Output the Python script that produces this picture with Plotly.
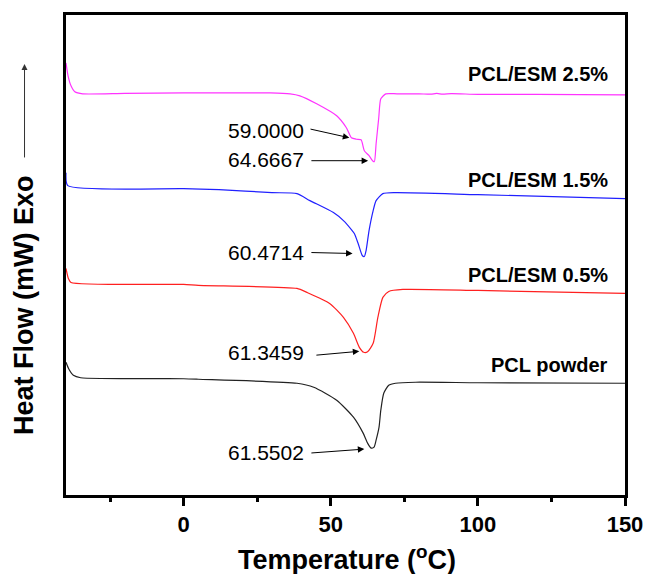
import plotly.graph_objects as go

# ---- data (temperature in °C, heat flow in arbitrary offset units) ----
t_25 = [-40, -39.3, -38.3, -37, -34.3, -20, 0, 20, 29.5, 36.2, 39.5, 45.2, 52, 55.3, 57, 58.7, 60.3,
        61.4, 63, 64.2, 64.8, 65.4, 66.3, 67, 68.7, 72.5, 80, 84, 86, 88, 91, 100, 120, 150]
v_25 = [43.3, 42.0, 41.0, 40.4, 40.2, 40.25, 40.3, 40.3, 40.3, 40.2, 40.0, 39.2, 38.0, 36.8, 35.8, 35.65, 35.6,
        34.5, 34.0, 33.5, 33.4, 35.2, 37.8, 39.7, 40.2, 40.2, 40.2, 40.17, 40.24, 40.17, 40.22, 40.15, 40.15, 40.1]

t_15 = [-40, -39.4, 0, 12, 30, 38.5, 42.9, 50.9, 54.3, 57, 58, 59.3, 60.7, 61.4, 62, 63, 64.4, 65.4,
        67.7, 72, 100, 150]
v_15 = [32.3, 31.0, 30.7, 30.6, 30.3, 30.2, 29.5, 28.3, 27.5, 26.6, 26.2, 25.2, 24.0, 23.9, 24.5, 26.5, 28.5, 29.5,
        30.2, 30.3, 30.1, 29.7]

t_05 = [-40, -39.2, -38.3, 0, 5, 38.5, 41.9, 49.6, 54.3, 57.7, 59.7, 61.2, 62.5, 64.4, 66, 67.7, 69.7,
        74.5, 100, 150]
v_05 = [22.7, 21.7, 21.3, 21.1, 21.0, 20.7, 20.3, 19.2, 17.8, 16.2, 14.8, 14.3, 14.35, 15.2, 17.8, 19.8, 20.4,
        20.6, 20.5, 20.2]

t_pcl = [-40, -39, -37.5, -35, 0, 5, 38.5, 44.2, 52, 57.7, 61, 62.5, 63.7, 64.7, 65.4, 66.4, 67, 68, 69.7,
         72, 78.8, 100, 150]
v_pcl = [13.3, 12.6, 12.0, 11.75, 11.65, 11.6, 11.2, 10.8, 9.5, 7.8, 6.2, 5.2, 4.7, 4.8, 5.5, 6.8, 8.5, 10.2, 11.0,
         11.2, 11.3, 11.25, 11.2]

series_names = ["PCL/ESM 2.5%", "PCL/ESM 1.5%", "PCL/ESM 0.5%", "PCL powder"]
series_colors = ["#FF33FF", "#2020FF", "#FF2020", "#222222"]

peak_labels = ["59.0000", "64.6667", "60.4714", "61.3459", "61.5502"]
# arrow (tail_T, tail_v, head_T, head_v) for each peak label
peak_arrows = [(42.6, 36.7, 56.3, 35.8),
               (42.9, 33.5, 62.7, 33.5),
               (42.9, 24.3, 57.4, 24.2),
               (44.6, 14.0, 59.7, 14.4),
               (42.9, 4.2, 61.4, 4.6)]
peak_label_y = [36.5, 33.6, 24.3, 14.3, 4.3]

name_label_y = [42.2, 31.6, 22.0, 13.0]

FONT = "Liberation Sans, Arial, Helvetica, sans-serif"

fig = go.Figure()
for t, v, n, c in zip([t_25, t_15, t_05, t_pcl], [v_25, v_15, v_05, v_pcl], series_names, series_colors):
    fig.add_trace(go.Scatter(x=t, y=v, mode="lines", name=n,
                             line=dict(color=c, width=1.2, shape="spline", smoothing=0.6)))

ann = []
for n, y in zip(series_names, name_label_y):
    ann.append(dict(x=144.8, y=y, xref="x", yref="y", text=n, showarrow=False,
                    xanchor="right", yanchor="middle",
                    font=dict(family=FONT, size=20, color="black", weight="bold")))

for lab, (tx, ty, hx, hy), ly in zip(peak_labels, peak_arrows, peak_label_y):
    ann.append(dict(x=41.6, y=ly, xref="x", yref="y", text=lab, showarrow=False,
                    xanchor="right", yanchor="middle",
                    font=dict(family=FONT, size=21, color="black")))
    ann.append(dict(x=hx, y=hy, ax=tx, ay=ty, xref="x", yref="y", axref="x", ayref="y",
                    text="", showarrow=True, arrowhead=2, arrowsize=1.3, arrowwidth=1,
                    arrowcolor="black", standoff=0))

# axis titles
ann.append(dict(x=0.502, y=-0.131, xref="paper", yref="paper",
                text="Temperature (<sup>o</sup>C)", showarrow=False,
                xanchor="center", yanchor="middle",
                font=dict(family=FONT, size=27, color="black", weight="bold")))
ann.append(dict(x=-0.0742, y=0.395, xref="paper", yref="paper",
                text="Heat Flow (mW) Exo", showarrow=False, textangle=-90,
                xanchor="center", yanchor="middle",
                font=dict(family=FONT, size=27, color="black", weight="bold")))
ann.append(dict(x=-0.0742, y=0.898, xref="paper", yref="paper", ax=0, ay=95,
                text="", showarrow=True, arrowhead=2, arrowsize=1.2, arrowwidth=1,
                arrowcolor="#333333", standoff=0))

fig.update_layout(
    width=655, height=574,
    margin=dict(l=66, r=23, t=14, b=79),
    plot_bgcolor="white", paper_bgcolor="white",
    showlegend=False,
    annotations=ann,
    xaxis=dict(range=[-40, 150], tickvals=[0, 50, 100, 150], ticks="outside",
               ticklen=8, tickwidth=3, tickcolor="black",
               showline=True, linewidth=3, linecolor="black", mirror=True,
               showgrid=False, zeroline=False,
               tickfont=dict(family=FONT, size=22, color="black", weight="bold"),
               minor=dict(tickvals=[-25, 25, 75, 125], ticks="outside", ticklen=4,
                          tickwidth=3, tickcolor="black", showgrid=False)),
    yaxis=dict(range=[0, 48.1], showticklabels=False, ticks="",
               showline=True, linewidth=3, linecolor="black", mirror=True,
               showgrid=False, zeroline=False),
)

fig.write_html("out.html")
